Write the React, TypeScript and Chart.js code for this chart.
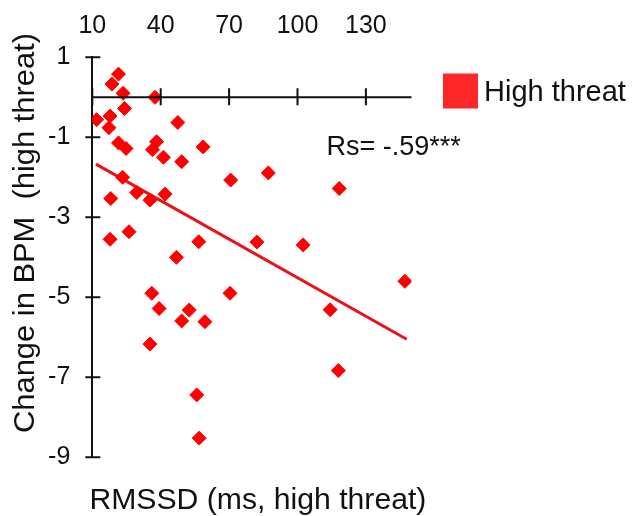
import React, { useEffect, useRef } from "react";
import { Chart, registerables } from "chart.js";

Chart.register(...registerables);

const rmssd = [21.5, 18.6, 23.5, 37.5, 24.1, 11.9, 17.8, 17.3, 47.5, 21.5, 24.8, 38.2, 36.4, 41.2, 49.2, 58.6, 23.3, 70.7, 29.5, 35.3, 41.9, 18.1, 17.8, 26.1, 56.7, 82.2, 46.9, 36.1, 70.4, 39.3, 52.5, 49.2, 59.4, 35.3, 55.8, 56.9, 87.2, 118.3, 102.5, 147.1, 114.3, 117.9];
const bpmChange = [0.58, 0.33, 0.1, 0.0, -0.28, -0.56, -0.47, -0.76, -0.63, -1.14, -1.28, -1.11, -1.31, -1.5, -1.61, -1.24, -2.0, -2.07, -2.38, -2.57, -2.42, -2.53, -3.55, -3.36, -3.61, -3.62, -4.0, -4.9, -4.9, -5.28, -5.32, -5.59, -5.61, -6.17, -7.44, -8.52, -1.89, -2.28, -3.69, -4.6, -5.31, -6.83];
const fitX = [11.6, 147.9];
const fitY = [-1.67, -6.05];
const xTicks = [10, 40, 70, 100, 130];
const yTicks = [1, -1, -3, -5, -7, -9];
const seriesLabel = "High threat";
const xTitle = "RMSSD (ms, high threat)";
const yTitle = "Change in BPM  (high threat)";
const statText = "Rs= -.59***";

const FONT = "'Liberation Sans', Arial, sans-serif";
const INK = "#111";

const decorPlugin = {
  id: "decor",
  afterDatasetsDraw(chart: any) {
    const { ctx, scales } = chart;
    const xs = scales.x;
    const ys = scales.y;
    ctx.save();
    ctx.strokeStyle = INK;
    ctx.lineWidth = 2;
    const y0 = ys.getPixelForValue(0);
    ctx.beginPath();
    ctx.moveTo(xs.left, y0);
    ctx.lineTo(xs.right, y0);
    for (const v of xTicks) {
      const px = xs.getPixelForValue(v);
      ctx.moveTo(px, y0 - 9);
      ctx.lineTo(px, y0 + 8);
    }
    const xl = xs.getPixelForValue(10);
    for (const v of yTicks) {
      const py = ys.getPixelForValue(v);
      ctx.moveTo(xl - 7, py);
      ctx.lineTo(xl + 8, py);
    }
    ctx.stroke();
    ctx.restore();
  },
  afterDraw(chart: any) {
    const { ctx, chartArea } = chart;
    ctx.save();
    ctx.fillStyle = INK;
    ctx.textBaseline = "alphabetic";

    ctx.font = `30px ${FONT}`;
    ctx.textAlign = "center";
    {
      const w = ctx.measureText(xTitle).width;
      const target = 337;
      ctx.save();
      ctx.translate((chartArea.left + chartArea.right) / 2 + 6, 508.5);
      ctx.scale(target / w, 1);
      ctx.fillText(xTitle, 0, 0);
      ctx.restore();
    }

    ctx.font = `29px ${FONT}`;
    {
      const w = ctx.measureText(yTitle).width;
      const target = 400;
      ctx.save();
      ctx.translate(34, 233);
      ctx.rotate(-Math.PI / 2);
      ctx.scale(target / w, 1);
      ctx.fillText(yTitle, 0, 0);
      ctx.restore();
    }

    ctx.font = `27px ${FONT}`;
    ctx.textAlign = "left";
    ctx.fillText(statText, 326.5, 155);

    ctx.fillStyle = "rgb(255,40,40)";
    ctx.fillRect(443, 73.5, 35, 35);
    ctx.fillStyle = INK;
    ctx.font = `29px ${FONT}`;
    ctx.fillText(seriesLabel, 484, 101);
    ctx.restore();
  },
};

export default function App() {
  const ref = useRef<HTMLCanvasElement | null>(null);

  useEffect(() => {
    document.body.style.margin = "0";
    const canvas = ref.current;
    if (!canvas) return;
    const chart = new Chart(canvas, {
      type: "scatter",
      data: {
        datasets: [
          {
            label: seriesLabel,
            data: rmssd.map((x, i) => ({ x, y: bpmChange[i] })),
            pointStyle: "rectRot",
            pointRadius: 7,
            pointHoverRadius: 7,
            backgroundColor: "#ff0000",
            borderColor: "#ff0000",
            borderWidth: 1,
            showLine: false,
          },
          {
            type: "line",
            label: "fit",
            data: fitX.map((x, i) => ({ x, y: fitY[i] })),
            borderColor: "#e8141a",
            borderWidth: 3,
            pointRadius: 0,
            fill: false,
          } as any,
        ],
      },
      options: {
        responsive: false,
        animation: false,
        devicePixelRatio: 1,
        layout: { padding: { left: 0, top: 0, right: 224.5, bottom: 58.7 } },
        plugins: {
          legend: { display: false },
          tooltip: { enabled: false },
          title: { display: false },
        },
        scales: {
          x: {
            type: "linear",
            position: "top",
            min: 10,
            max: 150,
            grid: { display: false, drawTicks: false },
            border: { display: false },
            ticks: {
              font: { family: FONT, size: 25 },
              color: INK,
              padding: 16.5,
              maxRotation: 0,
              autoSkip: false,
            },
            afterBuildTicks: (s: any) => {
              s.ticks = xTicks.map((v) => ({ value: v }));
            },
            afterFit: (s: any) => {
              s.height = 57.3;
            },
          },
          y: {
            type: "linear",
            position: "left",
            min: -9,
            max: 1,
            grid: { display: false, drawTicks: false },
            border: { display: true, color: INK, width: 2 },
            ticks: {
              font: { family: FONT, size: 25 },
              color: INK,
              padding: 22,
              autoSkip: false,
            },
            afterBuildTicks: (s: any) => {
              s.ticks = yTicks.map((v) => ({ value: v }));
            },
            afterFit: (s: any) => {
              s.width = 92.3;
            },
          },
        },
      },
      plugins: [decorPlugin],
    } as any);
    return () => chart.destroy();
  }, []);

  return (
    <div style={{ width: 636, height: 516, position: "relative", background: "#fff" }}>
      <canvas ref={ref} width={636} height={516} style={{ display: "block" }} />
    </div>
  );
}
